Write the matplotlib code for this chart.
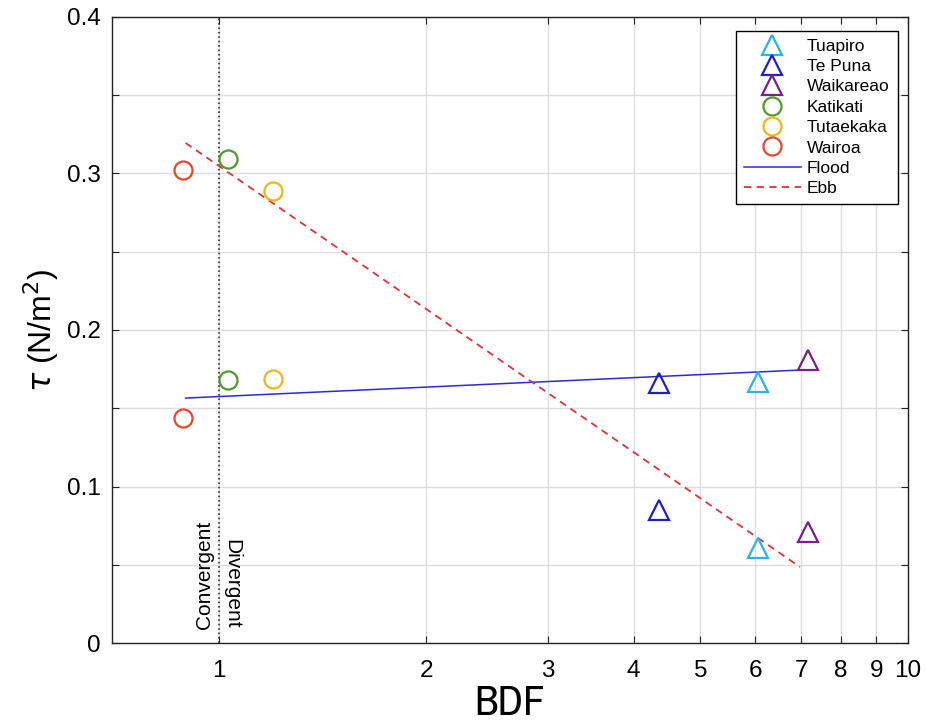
import numpy as np
import matplotlib
matplotlib.use('Agg')
import matplotlib.pyplot as plt
from matplotlib import font_manager
from matplotlib.lines import Line2D
from matplotlib.ticker import FixedLocator, NullLocator

plt.rcParams['font.family'] = ['Liberation Sans', 'DejaVu Sans']

# site data: BDF and bed shear stress (flood, ebb)
sites = ['Tuapiro', 'Te Puna', 'Waikareao', 'Katikati', 'Tutaekaka', 'Wairoa']
markers = ['^', '^', '^', 'o', 'o', 'o']
colors = ['#2bb3e3', '#1f1fc4', '#7b1f88', '#4f9a2c', '#efb41e', '#e8472c']
bdf = [6.06, 4.35, 7.16, 1.03, 1.198, 0.887]
tau_flood = [0.167, 0.166, 0.181, 0.168, 0.169, 0.144]
tau_ebb = [0.061, 0.085, 0.071, 0.309, 0.289, 0.302]

# fitted trend lines
fit_x = [0.895, 6.97]
flood_fit = [0.1565, 0.1744]
ebb_fit = [0.3195, 0.0486]

xticks = [1, 2, 3, 4, 5, 6, 7, 8, 9, 10]
yticks = [0, 0.05, 0.1, 0.15, 0.2, 0.25, 0.3, 0.35, 0.4]
ylabels = ['0', '', '0.1', '', '0.2', '', '0.3', '', '0.4']

# a narrow face for the x label, if one is installed
narrow = [f.name for f in font_manager.fontManager.ttflist
          if 'Narrow' in f.name or 'Condensed' in f.name]
xlab_family = narrow[:1] + ['Liberation Sans']

fig = plt.figure(figsize=(9.28, 7.22), dpi=100)
ax = fig.add_axes([0.1207, 0.1094, 0.8577, 0.8671])

ax.set_xscale('log')
ax.set_xlim(0.7, 10)
ax.set_ylim(0, 0.4)

ax.xaxis.set_major_locator(FixedLocator(xticks))
ax.xaxis.set_minor_locator(NullLocator())
ax.set_xticklabels([str(t) for t in xticks])
ax.set_yticks(yticks)
ax.set_yticklabels(ylabels)

ax.grid(True, color='#dedede', linewidth=1)
ax.set_axisbelow(True)

ax.axvline(1, color='#333333', linestyle=':', linewidth=1.2, zorder=2)
ax.text(0.985, 0.009, 'Convergent', rotation=90, ha='right', va='bottom', fontsize=15)
ax.text(1.012, 0.009, 'Divergent', rotation=270, ha='left', va='bottom', fontsize=15)

handles = []
for i in range(len(sites)):
    ms = 15 if markers[i] == '^' else 13
    ax.plot([bdf[i], bdf[i]], [tau_flood[i], tau_ebb[i]], linestyle='none',
            marker=markers[i], markersize=ms, markerfacecolor='none',
            markeredgecolor=colors[i], markeredgewidth=1.6, zorder=4)
    handles.append(Line2D([], [], linestyle='none', marker=markers[i], markersize=ms,
                          markerfacecolor='none', markeredgecolor=colors[i],
                          markeredgewidth=1.6, label=sites[i]))

fl, = ax.plot(fit_x, flood_fit, color='#2b2bd6', linewidth=1.1, label='Flood', zorder=3)
eb, = ax.plot(fit_x, ebb_fit, color='#e0303a', linewidth=1.3, linestyle=(0, (4, 3)),
              label='Ebb', zorder=3)
handles += [fl, eb]

leg = ax.legend(handles=handles, loc='upper right', bbox_to_anchor=(0.987, 0.978),
                borderaxespad=0, fontsize=12.5, frameon=True, fancybox=False,
                edgecolor='black', framealpha=1, handlelength=3.3, handletextpad=0.35,
                labelspacing=0.3, borderpad=0.45)
leg.get_frame().set_linewidth(1)

for s in ax.spines.values():
    s.set_color('#222222')
    s.set_linewidth(1)
ax.tick_params(which='both', direction='in', top=True, right=True, length=5,
               color='#222222')
ax.tick_params(axis='y', labelsize=17.5, pad=8)
ax.tick_params(axis='x', labelsize=17.5, pad=12)

ax.set_xlabel('BDF', fontsize=31, family=xlab_family, labelpad=2)
ax.set_ylabel(r'$\tau$ (N/m$^2$)', fontsize=23, labelpad=4)

fig.savefig('out.png', dpi=100)
